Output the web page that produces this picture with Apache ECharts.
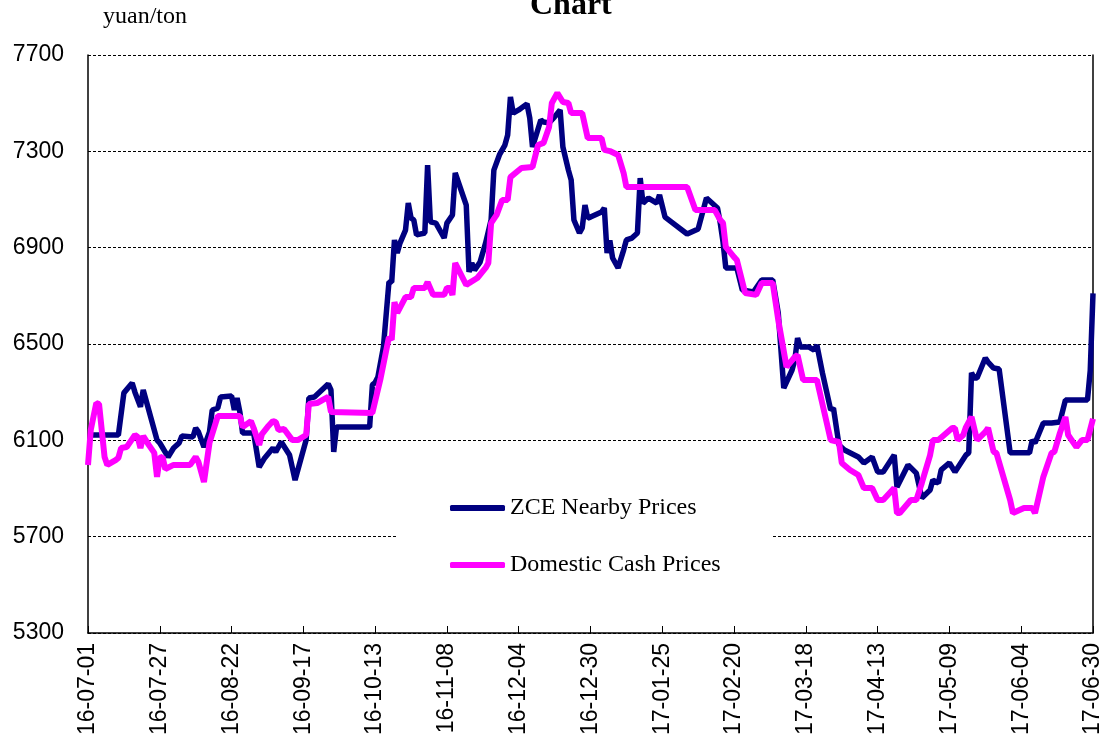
<!DOCTYPE html>
<html>
<head>
<meta charset="utf-8">
<script src="https://cdn.jsdelivr.net/npm/echarts@6/dist/echarts.min.js"></script>
<style>html,body{margin:0;padding:0;background:#fff;}#c{width:1111px;height:740px;}</style>
</head>
<body>
<div id="c"></div>
<script>
// Categories: every calendar day from 2016-07-01 to 2017-06-30
const startDate = [2016, 6, 1];
const dayCount = 365;
const categories = [];
for (let i = 0; i < dayCount; i++) {
  const d = new Date(Date.UTC(startDate[0], startDate[1], startDate[2] + i));
  const yy = String(d.getUTCFullYear()).slice(2);
  const mm = String(d.getUTCMonth() + 1).padStart(2, '0');
  const dd = String(d.getUTCDate()).padStart(2, '0');
  categories.push(yy + '-' + mm + '-' + dd);
}

const seriesNames = ['ZCE Nearby Prices', 'Domestic Cash Prices'];

// ZCE nearby prices: day offset from 16-07-01, and price (yuan/ton)
const zceDay = [0,11,13,16,17,19,20,25,26,29,31,33,34,38,39,40,42,44,45,47,48,52,53,54,55,56,60,62,64,67,68,70,73,75,79,80,82,87,88,89,90,102,103,104,105,107,109,110,111,112,113,115,116,117,118,119,122,123,124,126,129,130,132,133,137,138,139,140,142,144,146,147,149,151,152,153,154,156,159,160,161,164,165,167,169,171,172,174,175,176,178,179,180,181,182,186,187,188,189,190,192,194,195,197,199,200,201,203,206,207,209,217,221,224,228,229,230,231,235,237,241,244,248,250,252,255,256,257,258,261,263,264,266,269,270,272,274,279,281,284,286,288,292,293,297,300,302,305,306,308,309,312,314,318,319,320,321,322,325,326,328,330,334,341,342,343,346,349,352,354,362,363,364];
const zceVal = [6122,6122,6297,6338,6300,6239,6309,6101,6089,6031,6068,6089,6118,6114,6151,6135,6072,6135,6226,6234,6280,6284,6226,6276,6218,6130,6130,5989,6027,6068,6052,6093,6039,5935,6101,6276,6280,6334,6309,6052,6155,6155,6330,6340,6363,6488,6757,6757,6932,6878,6919,6973,7085,7023,7015,6953,6961,7243,7007,7002,6940,7002,7036,7210,7077,6799,6836,6807,6840,6919,7015,7222,7285,7326,7368,7526,7459,7472,7497,7438,7318,7430,7422,7418,7443,7472,7318,7222,7181,7015,6961,6982,7077,7023,7027,7048,7065,6878,6930,6857,6816,6890,6932,6940,6961,7189,7085,7106,7085,7119,7027,6957,6978,7106,7065,7002,6924,6816,6816,6724,6716,6766,6766,6629,6317,6392,6434,6525,6488,6488,6475,6496,6380,6226,6234,6081,6060,6031,6006,6031,5969,5969,6039,5906,5998,5964,5861,5894,5935,5923,5977,6006,5969,6039,6048,6380,6359,6359,6442,6425,6400,6396,6048,6048,6101,6089,6172,6172,6176,6267,6267,6390,6710];

// Domestic cash prices: day offset from 16-07-01, and price (yuan/ton)
const cashDay = [0,1,3,4,6,7,10,11,12,14,17,18,19,20,22,24,25,26,27,28,31,37,39,40,42,44,47,55,56,59,60,62,63,65,67,68,69,71,74,76,79,80,83,87,88,103,106,109,110,111,112,115,117,118,122,123,125,129,130,131,132,133,137,138,141,144,145,146,148,150,152,153,157,161,163,165,167,168,170,172,174,175,179,181,186,187,189,192,194,195,217,220,227,229,230,231,234,235,238,242,244,248,250,253,256,257,259,264,269,272,273,276,279,281,284,286,288,292,293,294,298,300,302,305,306,308,313,314,315,317,318,320,322,325,326,328,329,334,335,339,342,343,346,349,350,352,354,355,358,360,362,364];
const cashVal = [5998,6143,6255,6251,6031,5998,6018,6027,6068,6072,6122,6114,6068,6118,6081,6048,5948,6027,6031,5981,5998,5998,6031,6010,5927,6089,6201,6201,6155,6180,6151,6081,6126,6155,6180,6176,6143,6147,6101,6101,6122,6251,6255,6280,6218,6214,6359,6529,6517,6674,6629,6695,6695,6733,6733,6757,6704,6704,6733,6733,6704,6836,6745,6753,6774,6816,6836,7002,7036,7098,7098,7193,7231,7235,7326,7335,7401,7501,7542,7505,7501,7459,7459,7355,7355,7306,7301,7285,7210,7152,7152,7056,7056,7015,7002,6903,6861,6849,6712,6704,6753,6753,6600,6405,6446,6454,6351,6351,6101,6093,6006,5977,5956,5902,5902,5852,5852,5902,5798,5798,5852,5852,5923,6039,6101,6101,6151,6151,6101,6122,6155,6197,6101,6135,6151,6052,6048,5852,5798,5819,5819,5798,5948,6048,6052,6130,6197,6122,6072,6101,6101,6190];

// Value axis ticks
const yMin = 5300, yMax = 7700, yStep = 400;
const labelEvery = 26;

const chart = echarts.init(document.getElementById('c'), null, {renderer: 'canvas'});
const serif = '"Liberation Serif", "Times New Roman", serif';
const sans = '"Liberation Sans", Arial, sans-serif';

chart.setOption({
  animation: false,
  backgroundColor: '#fff',
  graphic: [
    {type: 'text', left: 530, top: -10, style: {text: 'Chart', font: 'bold 32px ' + serif, fill: '#000'}},
    {type: 'text', left: 103, top: 5, style: {text: 'yuan/ton', font: '24px ' + serif, fill: '#000'}}
  ],
  legend: {
    orient: 'vertical',
    left: 397,
    top: 474,
    padding: [22, 52, 22, 53],
    backgroundColor: '#fff',
    icon: 'roundRect',
    itemWidth: 55,
    itemHeight: 6,
    itemGap: 33,
    textStyle: {fontFamily: serif, fontSize: 24, color: '#000'},
    data: seriesNames
  },
  grid: {left: 88, right: 18, top: 55, bottom: 107, containLabel: false},
  xAxis: {
    type: 'category',
    data: categories,
    boundaryGap: false,
    axisLine: {lineStyle: {color: '#000', width: 1.5}},
    axisTick: {show: true, inside: true, length: 7, interval: labelEvery - 1, lineStyle: {color: '#000'}},
    axisLabel: {interval: labelEvery - 1, rotate: 90, margin: 10, fontFamily: sans, fontSize: 23, color: '#000'},
    splitLine: {show: false}
  },
  yAxis: [{
    type: 'value',
    min: yMin, max: yMax, interval: yStep,
    axisLine: {show: true, lineStyle: {color: '#000', width: 1.5}},
    axisTick: {show: false},
    axisLabel: {margin: 24, fontFamily: sans, fontSize: 23, color: '#000', formatter: v => String(v)},
    splitLine: {show: true, lineStyle: {color: '#000', width: 1, type: [3, 2]}}
  }, {
    type: 'value', position: 'right',
    min: yMin, max: yMax, interval: yStep,
    axisLine: {show: true, lineStyle: {color: '#000', width: 1.5}},
    axisTick: {show: false}, axisLabel: {show: false}, splitLine: {show: false}
  }],
  series: [
    {
      name: seriesNames[0], type: 'line', showSymbol: false, symbol: 'none',
      connectNulls: true,
      lineStyle: {color: '#000080', width: 5.5},
      itemStyle: {color: '#000080'},
      data: zceDay.map((d, i) => [d, zceVal[i]])
    },
    {
      name: seriesNames[1], type: 'line', showSymbol: false, symbol: 'none',
      connectNulls: true,
      lineStyle: {color: '#FF00FF', width: 6},
      itemStyle: {color: '#FF00FF'},
      data: cashDay.map((d, i) => [d, cashVal[i]])
    }
  ]
});
</script>
</body>
</html>
